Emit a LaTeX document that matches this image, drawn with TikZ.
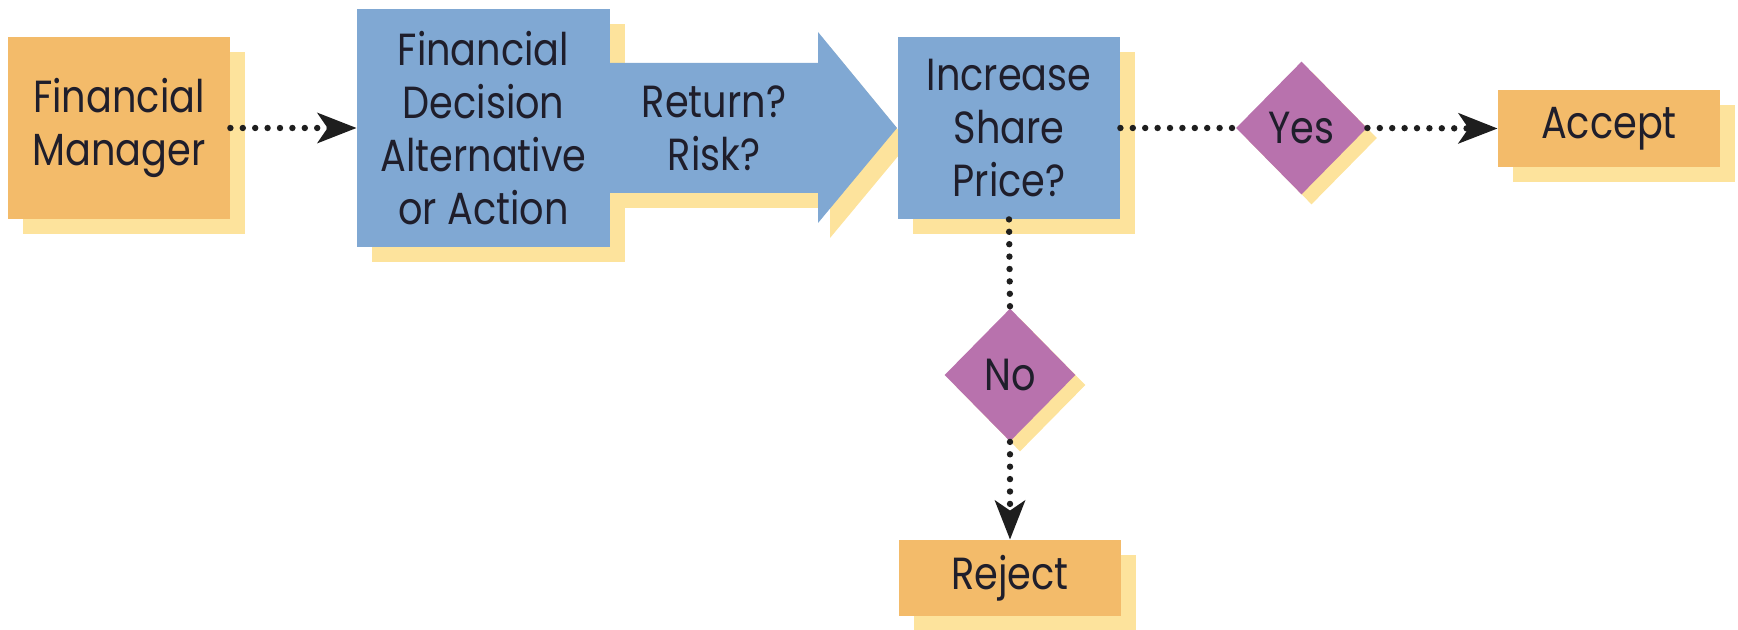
\documentclass[tikz,border=0pt]{standalone}
\usepackage{fontspec}
\setmainfont{Poppins}[FakeStretch=0.85]
\usetikzlibrary{shapes.geometric,shadows,arrows.meta}
\definecolor{boxor}{HTML}{F3BB6A}
\definecolor{shad}{HTML}{FDE39C}
\definecolor{boxbl}{HTML}{80A8D3}
\definecolor{boxpu}{HTML}{B872AD}
\definecolor{txt}{HTML}{1F1E2B}
\definecolor{dotc}{HTML}{1E1E1E}
\tikzset{
  base/.style={inner sep=0pt, text=txt, font=\fontsize{22.5}{26.5}\selectfont, align=center,
    execute at begin node={\vspace*{5pt}}},
  rshadow/.style={drop shadow={shadow xshift=7.5pt, shadow yshift=-7.5pt, fill=shad, opacity=1}},
  ashadow/.style={drop shadow={shadow xshift=6pt, shadow yshift=-7.5pt, fill=shad, opacity=1}},
  obox/.style={base, rectangle, fill=boxor, rshadow},
  bbox/.style={base, rectangle, fill=boxbl, rshadow},
  dia/.style={base, diamond, fill=boxpu, minimum width=65.5pt, minimum height=66.5pt,
    drop shadow={shadow xshift=5pt, shadow yshift=-5pt, fill=shad, opacity=1}},
  dotline/.style={draw=dotc, line width=3.2pt, line cap=round, dash pattern=on 0pt off 6.2pt},
  dotarrow/.style={dotline, -{Stealth[length=19.5pt,width=15pt,inset=5pt]}},
}
\begin{document}
\begin{tikzpicture}[x=0.5pt,y=-0.5pt]
\useasboundingbox (0,0) rectangle (1738,630);
% boxes
\node[obox, minimum width=111pt, minimum height=91pt] (fm) at (119,128) {Financial\\Manager};
\node[bbox, minimum width=126.5pt, minimum height=119pt] (dec) at (483.5,128) {Financial\\Decision\\Alternative\\or Action};
% big arrow
\fill[boxbl, ashadow] (610,63) -- (818,63) -- (818,32) -- (897,128) -- (818,223) -- (818,193) -- (610,193) -- cycle;
\node[base] (ret) at (714,128) {Return?\\Risk?};
\node[bbox, minimum width=111pt, minimum height=91pt] (inc) at (1009,128) {Increase\\Share\\Price?};
\node[dia] (yes) at (1301.5,128) {Yes};
\node[obox, minimum width=111pt, minimum height=38.5pt] (acc) at (1609,128.5) {Accept};
\node[dia] (no) at (1010,375) {No};
\node[obox, minimum width=111pt, minimum height=38pt] (rej) at (1010,578) {Reject};
% connectors
\draw[dotarrow] (fm.east) -- (dec.west);
\draw[dotline] (inc.east) -- (yes.west);
\draw[dotarrow] (yes.east) -- (acc.west);
\draw[dotline] (inc.south) -- (no.north);
\draw[dotarrow] (no.south) -- (rej.north);
\end{tikzpicture}
\end{document}
